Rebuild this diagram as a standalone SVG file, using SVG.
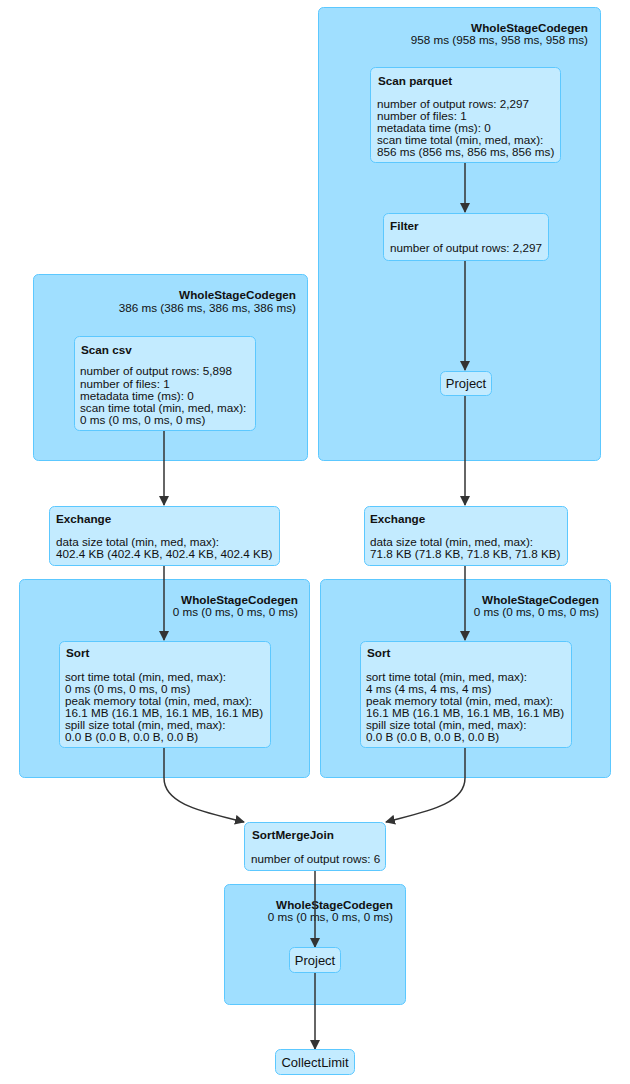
<svg xmlns="http://www.w3.org/2000/svg" width="630" height="1084" viewBox="0 0 630 1084">
<style>
.cl{fill:#A0DFFF;stroke:#5CC8FF;stroke-width:1}
.nd{fill:#C3EBFF;stroke:#5CC8FF;stroke-width:1}
text{font-family:"Liberation Sans",Arial,sans-serif;font-size:11.7px;fill:#111}
.b{font-weight:bold}
.ct{text-anchor:end}
.s{font-size:13px;text-anchor:middle}
.e{fill:none;stroke:#333;stroke-width:1.5}
</style>
<defs>
<marker id="ah" markerWidth="10" markerHeight="10" refX="9" refY="5" orient="auto" markerUnits="userSpaceOnUse" viewBox="0 0 10 10">
<path d="M0,0 L10,5 L0,10 z" fill="#333"/>
</marker>
</defs>
<g id="clusters">
<g id="wsc1"><rect class="cl" x="318.5" y="7.5" width="282" height="453" rx="5"/>
<text class="b ct" x="588" y="32">WholeStageCodegen</text><text class="ct" x="588" y="44">958 ms (958 ms, 958 ms, 958 ms)</text></g>
<g id="wsc2"><rect class="cl" x="33.5" y="274.5" width="274" height="186" rx="5"/>
<text class="b ct" x="296" y="299">WholeStageCodegen</text><text class="ct" x="296" y="311.5">386 ms (386 ms, 386 ms, 386 ms)</text></g>
<g id="wsc3"><rect class="cl" x="19.5" y="579.5" width="290" height="198" rx="5"/>
<text class="b ct" x="298" y="604">WholeStageCodegen</text><text class="ct" x="298" y="616">0 ms (0 ms, 0 ms, 0 ms)</text></g>
<g id="wsc4"><rect class="cl" x="320.5" y="579.5" width="290" height="198" rx="5"/>
<text class="b ct" x="599" y="604">WholeStageCodegen</text><text class="ct" x="599" y="616">0 ms (0 ms, 0 ms, 0 ms)</text></g>
<g id="wsc5"><rect class="cl" x="224.5" y="884.5" width="181" height="120" rx="5"/>
<text class="b ct" x="393" y="909">WholeStageCodegen</text><text class="ct" x="393" y="921">0 ms (0 ms, 0 ms, 0 ms)</text></g>
</g>
<g id="edges">
<path class="e" d="M465,162 L465,212" marker-end="url(#ah)"/>
<path class="e" d="M465,260 L465,370" marker-end="url(#ah)"/>
<path class="e" d="M465,395 L465,505" marker-end="url(#ah)"/>
<path class="e" d="M164,431 L164,505" marker-end="url(#ah)"/>
<path class="e" d="M164,565 L164,640" marker-end="url(#ah)"/>
<path class="e" d="M465,565 L465,640" marker-end="url(#ah)"/>
<path class="e" d="M164,747 L164,778 C164,805 205,812 244,822" marker-end="url(#ah)"/>
<path class="e" d="M465,747 L465,778 C465,805 424,812 386,822" marker-end="url(#ah)"/>
<path class="e" d="M315,870 L315,947" marker-end="url(#ah)"/>
<path class="e" d="M315,972 L315,1049" marker-end="url(#ah)"/>
</g>
<g id="scanParquet"><rect class="nd" x="370.5" y="67.5" width="190" height="95" rx="5"/>
<text class="b" x="378" y="85">Scan parquet</text>
<text x="377" y="108">number of output rows: 2,297</text>
<text x="377" y="120">number of files: 1</text>
<text x="377" y="132">metadata time (ms): 0</text>
<text x="377" y="144">scan time total (min, med, max):</text>
<text x="377" y="156">856 ms (856 ms, 856 ms, 856 ms)</text></g>
<g id="filter"><rect class="nd" x="383.5" y="213.5" width="165" height="47" rx="5"/>
<text class="b" x="390" y="230">Filter</text>
<text x="390" y="252">number of output rows: 2,297</text></g>
<g id="project1"><rect class="nd" x="440.5" y="371.5" width="51" height="24" rx="5"/>
<text class="s" x="466" y="388">Project</text></g>
<g id="scanCsv"><rect class="nd" x="74.5" y="336.5" width="181" height="94" rx="5"/>
<text class="b" x="81" y="354">Scan csv</text>
<text x="80" y="375">number of output rows: 5,898</text>
<text x="80" y="388">number of files: 1</text>
<text x="80" y="400">metadata time (ms): 0</text>
<text x="80" y="412">scan time total (min, med, max):</text>
<text x="80" y="424">0 ms (0 ms, 0 ms, 0 ms)</text></g>
<g id="exchange1"><rect class="nd" x="49.5" y="506.5" width="230" height="59" rx="5"/>
<text class="b" x="56" y="523">Exchange</text>
<text x="56" y="546">data size total (min, med, max):</text>
<text x="56" y="558">402.4 KB (402.4 KB, 402.4 KB, 402.4 KB)</text></g>
<g id="exchange2"><rect class="nd" x="364.5" y="506.5" width="203" height="59" rx="5"/>
<text class="b" x="370" y="523">Exchange</text>
<text x="370" y="546">data size total (min, med, max):</text>
<text x="370" y="558">71.8 KB (71.8 KB, 71.8 KB, 71.8 KB)</text></g>
<g id="sort1"><rect class="nd" x="59.5" y="641.5" width="211" height="106" rx="5"/>
<text class="b" x="66" y="657">Sort</text>
<text x="65" y="681">sort time total (min, med, max):</text>
<text x="65" y="693">0 ms (0 ms, 0 ms, 0 ms)</text>
<text x="65" y="705">peak memory total (min, med, max):</text>
<text x="65" y="717">16.1 MB (16.1 MB, 16.1 MB, 16.1 MB)</text>
<text x="65" y="729">spill size total (min, med, max):</text>
<text x="65" y="741">0.0 B (0.0 B, 0.0 B, 0.0 B)</text></g>
<g id="sort2"><rect class="nd" x="360.5" y="641.5" width="211" height="106" rx="5"/>
<text class="b" x="367" y="657">Sort</text>
<text x="366" y="681">sort time total (min, med, max):</text>
<text x="366" y="693">4 ms (4 ms, 4 ms, 4 ms)</text>
<text x="366" y="705">peak memory total (min, med, max):</text>
<text x="366" y="717">16.1 MB (16.1 MB, 16.1 MB, 16.1 MB)</text>
<text x="366" y="729">spill size total (min, med, max):</text>
<text x="366" y="741">0.0 B (0.0 B, 0.0 B, 0.0 B)</text></g>
<g id="sortMergeJoin"><rect class="nd" x="244.5" y="822.5" width="141" height="48" rx="5"/>
<text class="b" x="252" y="839">SortMergeJoin</text>
<text x="251" y="863">number of output rows: 6</text></g>
<g id="project2"><rect class="nd" x="289.5" y="947.5" width="51" height="25" rx="5"/>
<text class="s" x="315" y="965">Project</text></g>
<g id="collectLimit"><rect class="nd" x="275.5" y="1049.5" width="79" height="25" rx="5"/>
<text class="s" x="315" y="1067">CollectLimit</text></g>
</svg>
